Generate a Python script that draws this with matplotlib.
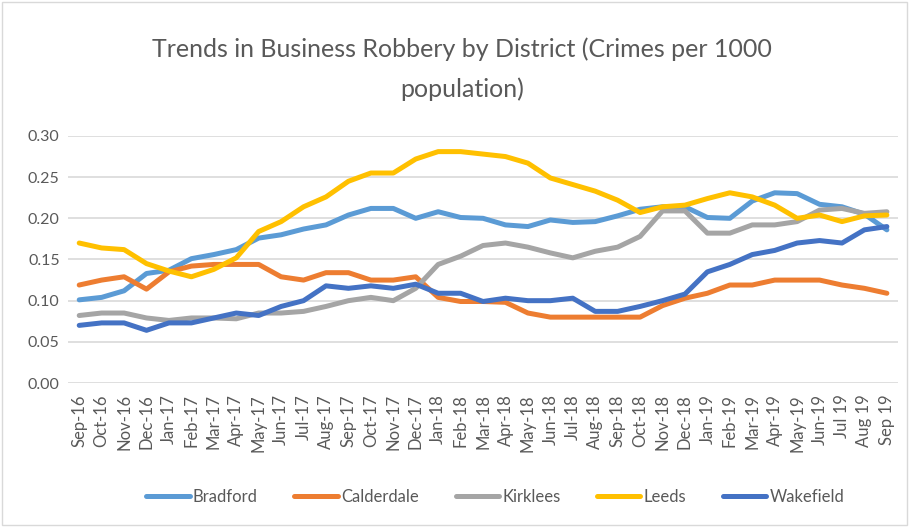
import matplotlib
matplotlib.use("Agg")
import matplotlib.pyplot as plt
from matplotlib.patches import Rectangle

months = ["Sep-16", "Oct-16", "Nov-16", "Dec-16", "Jan-17", "Feb-17", "Mar-17", "Apr-17",
          "May-17", "Jun-17", "Jul-17", "Aug-17", "Sep-17", "Oct-17", "Nov-17", "Dec-17",
          "Jan-18", "Feb-18", "Mar-18", "Apr-18", "May-18", "Jun-18", "Jul-18", "Aug-18",
          "Sep-18", "Oct-18", "Nov-18", "Dec-18", "Jan-19", "Feb-19", "Mar-19", "Apr-19",
          "May-19", "Jun-19", "Jul 19", "Aug 19", "Sep 19"]

bradford = [0.101, 0.104, 0.112, 0.133, 0.137, 0.151, 0.156, 0.162, 0.176, 0.180, 0.187, 0.192,
            0.204, 0.212, 0.212, 0.200, 0.208, 0.201, 0.200, 0.192, 0.190, 0.198, 0.195, 0.196,
            0.203, 0.211, 0.214, 0.214, 0.201, 0.200, 0.221, 0.231, 0.230, 0.217, 0.214, 0.205, 0.186]
calderdale = [0.119, 0.125, 0.129, 0.114, 0.135, 0.142, 0.144, 0.144, 0.144, 0.129, 0.125, 0.134,
              0.134, 0.125, 0.125, 0.129, 0.104, 0.099, 0.099, 0.098, 0.085, 0.080, 0.080, 0.080,
              0.080, 0.080, 0.094, 0.103, 0.109, 0.119, 0.119, 0.125, 0.125, 0.125, 0.119, 0.115, 0.109]
kirklees = [0.082, 0.085, 0.085, 0.079, 0.076, 0.079, 0.079, 0.078, 0.085, 0.085, 0.087, 0.093,
            0.100, 0.104, 0.100, 0.115, 0.144, 0.154, 0.167, 0.170, 0.165, 0.158, 0.152, 0.160,
            0.165, 0.178, 0.209, 0.209, 0.182, 0.182, 0.192, 0.192, 0.196, 0.210, 0.212, 0.206, 0.208]
leeds = [0.170, 0.164, 0.162, 0.145, 0.136, 0.129, 0.138, 0.152, 0.184, 0.196, 0.214, 0.226,
         0.245, 0.255, 0.255, 0.272, 0.281, 0.281, 0.278, 0.275, 0.267, 0.249, 0.241, 0.233,
         0.222, 0.207, 0.214, 0.216, 0.224, 0.231, 0.226, 0.216, 0.200, 0.204, 0.196, 0.203, 0.204]
wakefield = [0.070, 0.073, 0.073, 0.064, 0.073, 0.073, 0.079, 0.085, 0.082, 0.093, 0.100, 0.118,
             0.115, 0.118, 0.115, 0.120, 0.109, 0.109, 0.099, 0.103, 0.100, 0.100, 0.103, 0.087,
             0.087, 0.093, 0.100, 0.108, 0.135, 0.144, 0.156, 0.161, 0.170, 0.173, 0.170, 0.186, 0.190]

series = [("Bradford", bradford, "#5B9BD5"),
          ("Calderdale", calderdale, "#ED7D31"),
          ("Kirklees", kirklees, "#A5A5A5"),
          ("Leeds", leeds, "#FFC000"),
          ("Wakefield", wakefield, "#4472C4")]

plt.rcParams['font.family'] = ['Lato', 'DejaVu Sans']
txt = "#595959"

fig = plt.figure(figsize=(9.09, 5.27), dpi=100)
ax = fig.add_axes([0.0748, 0.2732, 0.9132, 0.4688])

x = list(range(len(months)))
for name, vals, col in series:
    ax.plot(x, vals, color=col, lw=3.6, label=name, solid_joinstyle='round', solid_capstyle='round')

ax.set_xlim(-0.5, len(months) - 0.5)
ax.set_ylim(0, 0.30)
ax.set_yticks([0, 0.05, 0.10, 0.15, 0.20, 0.25, 0.30])
ax.set_yticklabels(["%.2f" % v for v in ax.get_yticks()])
ax.set_xticks(x)
ax.set_xticklabels(months, rotation=90)
ax.tick_params(axis='both', length=0, colors=txt, labelsize=12)
ax.tick_params(axis='y', pad=6, labelsize=11.5)
ax.tick_params(axis='x', pad=8)
ax.grid(axis='y', color="#D9D9D9", lw=1.2)
ax.set_axisbelow(True)
for s in ax.spines.values():
    s.set_visible(False)

fig.text(0.508, 0.907, "Trends in Business Robbery by District (Crimes per 1000",
         ha='center', va='center', fontsize=18, color=txt)
fig.text(0.508, 0.830, "population)", ha='center', va='center', fontsize=18, color=txt)

leg = fig.legend(loc='center', bbox_to_anchor=(0.545, 0.057), ncol=5, frameon=False,
                 fontsize=12, handlelength=2.6, columnspacing=2.2, handletextpad=0.2)
for t in leg.get_texts():
    t.set_color(txt)

fig.patches.append(Rectangle((0.002, 0.003), 0.996, 0.994, transform=fig.transFigure,
                             fill=False, edgecolor="#D9D9D9", lw=1))

fig.savefig("out.png", dpi=100)
